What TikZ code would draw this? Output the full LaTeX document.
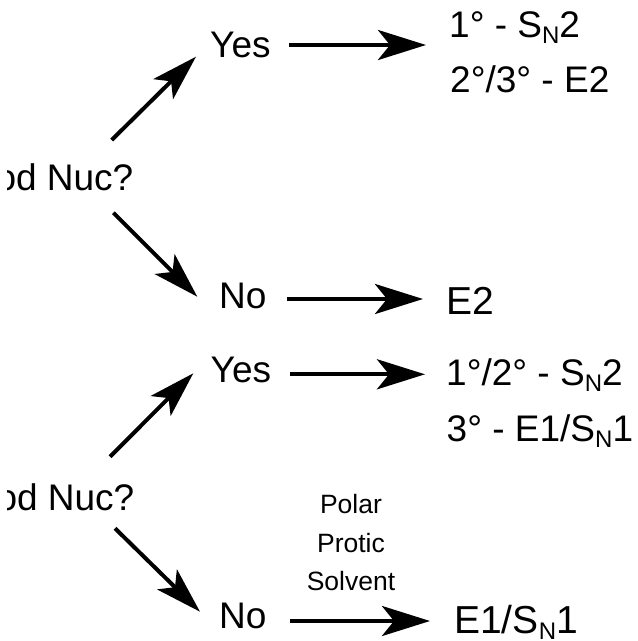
\documentclass[tikz,border=0pt]{standalone}
\usepackage{fontspec}
\setmainfont{Liberation Sans}
\usetikzlibrary{arrows.meta}
\tikzset{
  txt/.style={inner sep=0pt, anchor=base west, font=\fontsize{37}{44}\selectfont},
  bigtxt/.style={inner sep=0pt, anchor=base west, font=\fontsize{39}{46}\selectfont},
  small/.style={inner sep=0pt, anchor=base, font=\fontsize{26.5}{32}\selectfont},
  arr/.style={line width=4.3pt, -{Stealth[length=48pt,width=30pt,inset=12pt]}},
  darr/.style={line width=4pt, -{Stealth[length=46pt,width=28pt,inset=11pt]}},
}
\newcommand{\subN}{\raisebox{-6.5pt}{\fontsize{24}{24}\selectfont N}}
\begin{document}
\begin{tikzpicture}[x=1pt,y=-1pt]
\useasboundingbox (0,0) rectangle (638,641);
% question nodes (cut at the left edge)
\begin{scope}
\clip (7,0) rectangle (638,641);
\node[txt] (nucA) at (-54,190) {Good Nuc?};
\node[txt] (nucB) at (-53,510) {Good Nuc?};
\end{scope}
% upper branch
\node[txt] (yesA) at (210,57) {Yes};
\node[txt] (noA) at (219,308) {No};
\node[txt] (resA1) at (449,37) {1° - S\subN2};
\node[txt] (resA2) at (450,92) {2°/3° - E2};
\node[bigtxt] (eA) at (446,314) {E2};
% lower branch
\node[txt] (yesB) at (210.5,382) {Yes};
\node[txt] (noB) at (219,628) {No};
\node[txt] (resB1) at (446,385) {1°/2° - S\subN2};
\node[txt] (resB2) at (446.5,441) {3° - E1/S\subN1};
\node[bigtxt] (eB) at (454,633) {E1/S\subN1};
\node[small] (polar1) at (351,513) {Polar};
\node[small] (polar2) at (351,552.5) {Protic};
\node[small] (polar3) at (351,590) {Solvent};
% connector ends
\coordinate (d1s) at (111.7,140);   \coordinate (d1e) at (196,56.7);
\coordinate (d2s) at (113.3,212.7); \coordinate (d2e) at (197.3,296.7);
\coordinate (h1s) at (289,45);      \coordinate (h1e) at (426,45);
\coordinate (h2s) at (286.7,299);   \coordinate (h2e) at (423,299);
\coordinate (d3s) at (110,456.7);   \coordinate (d3e) at (193.3,373.3);
\coordinate (d4s) at (115,528.3);   \coordinate (d4e) at (200,611.7);
\coordinate (h3s) at (290,374.3);   \coordinate (h3e) at (425,374.3);
\coordinate (h4s) at (290,621);     \coordinate (h4e) at (430,621);
\draw[darr] (d1s) -- (d1e);
\draw[darr] (d2s) -- (d2e);
\draw[darr] (d3s) -- (d3e);
\draw[darr] (d4s) -- (d4e);
\draw[arr] (h1s) -- (h1e);
\draw[arr] (h2s) -- (h2e);
\draw[arr] (h3s) -- (h3e);
\draw[arr] (h4s) -- (h4e);
\end{tikzpicture}
\end{document}
